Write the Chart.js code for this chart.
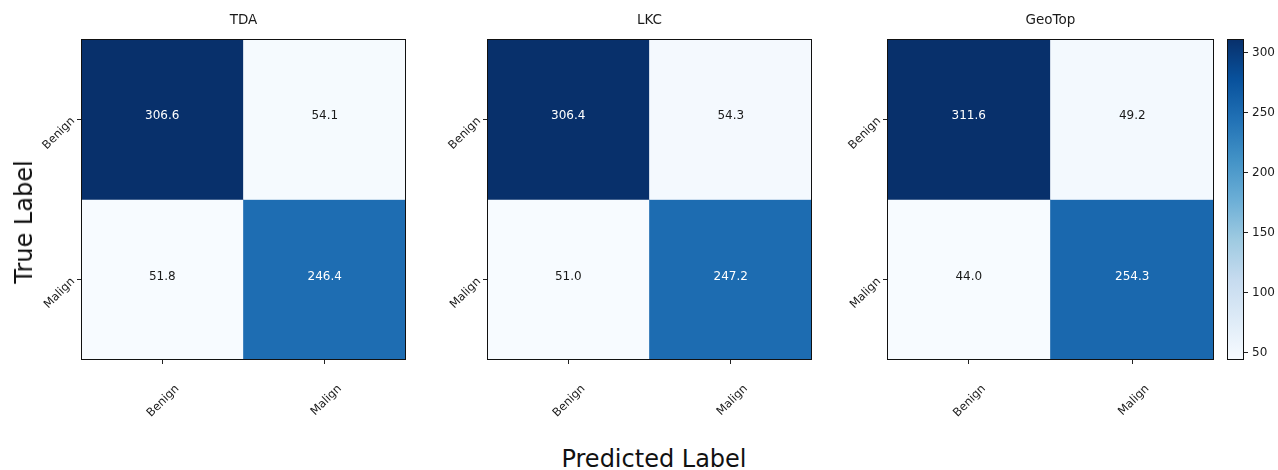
<!DOCTYPE html>
<html>
<head>
<meta charset="utf-8">
<script src="https://cdn.jsdelivr.net/npm/chart.js@4.4.1/dist/chart.umd.min.js"></script>
<style>
  html, body { margin: 0; padding: 0; background: #fff; }
  #fig { position: relative; width: 1278px; height: 470px; overflow: hidden; font-family: 'DejaVu Sans', sans-serif; }
  #fig canvas { position: absolute; top: 0; }
  .figlab { position: absolute; color: #111; font-size: 24px; line-height: 1; white-space: nowrap; }
  #ylab { left: 24px; top: 222px; transform: translate(-50%, -50%) rotate(-90deg); }
  #xlab { left: 654px; top: 459px; transform: translate(-50%, -50%); }
</style>
</head>
<body>
<div id="fig">
  <canvas id="panel0" width="420" height="430" style="left:0px"></canvas>
  <canvas id="panel1" width="420" height="430" style="left:420px"></canvas>
  <canvas id="panel2" width="380" height="430" style="left:840px"></canvas>
  <canvas id="cbar" width="63" height="430" style="left:1215px"></canvas>
  <div class="figlab" id="ylab">True Label</div>
  <div class="figlab" id="xlab">Predicted Label</div>
</div>
<script>
// Confusion matrices (rows = true class, columns = predicted class)
const titles = ['TDA', 'LKC', 'GeoTop'];
const classLabels = ['Benign', 'Malign'];
const tdaValues = [[306.6, 54.1], [51.8, 246.4]];
const lkcValues = [[306.4, 54.3], [51.0, 247.2]];
const geotopValues = [[311.6, 49.2], [44.0, 254.3]];
const colorbarTicks = [50, 100, 150, 200, 250, 300];

const FONT = "'DejaVu Sans', sans-serif";
const INK = '#1a1a1a';

// matplotlib "Blues" colour map anchors
const BLUES = [[247,251,255],[222,235,247],[198,219,239],[158,202,225],[107,174,214],
               [66,146,198],[33,113,181],[8,81,156],[8,48,107]];
function blues(t) {
  t = Math.max(0, Math.min(1, t));
  const s = t * (BLUES.length - 1);
  const i = Math.min(BLUES.length - 2, Math.floor(s));
  const f = s - i;
  const a = BLUES[i], b = BLUES[i + 1];
  const c = a.map((v, k) => Math.round(v + (b[k] - v) * f));
  return `rgb(${c[0]},${c[1]},${c[2]})`;
}

Chart.defaults.font.family = FONT;
Chart.defaults.color = INK;
Chart.defaults.animation = false;

// box outline around a plotting area
const framePlugin = {
  id: 'frame',
  afterDatasetsDraw(chart) {
    const { ctx, chartArea: a } = chart;
    ctx.save();
    ctx.strokeStyle = '#111';
    ctx.lineWidth = 1;
    ctx.strokeRect(Math.round(a.left) + 0.5, Math.round(a.top) + 0.5,
                   Math.round(a.right - a.left) - 1, Math.round(a.bottom - a.top) - 1);
    ctx.restore();
  }
};

// numbers in each cell and the panel heading
const cellTextPlugin = {
  id: 'cellText',
  afterDatasetsDraw(chart, args, opts) {
    const { ctx, chartArea: a } = chart;
    ctx.save();
    ctx.textAlign = 'center';
    ctx.textBaseline = 'middle';
    ctx.font = `12px ${FONT}`;
    chart.data.datasets.forEach((ds, di) => {
      const meta = chart.getDatasetMeta(di);
      meta.data.forEach((el, i) => {
        const v = ds.data[i].v;
        const cy = (el.y + el.base) / 2 - 3;
        ctx.fillStyle = v > opts.thresh ? '#ffffff' : INK;
        ctx.fillText(v.toFixed(1), el.x, cy);
      });
    });
    ctx.font = `13.5px ${FONT}`;
    ctx.fillStyle = INK;
    ctx.fillText(opts.title, (a.left + a.right) / 2, a.top - 19);
    ctx.restore();
  }
};

function makePanel(canvasId, title, values, yAxisWidth, padRight) {
  const flat = values.flat();
  const vmin = Math.min(...flat), vmax = Math.max(...flat);
  const color = v => blues((v - vmin) / (vmax - vmin));
  const datasets = values.map((row, r) => ({
    label: classLabels[r],
    data: row.map((v, c) => ({ x: classLabels[c], y: [classLabels.length - 1 - r, classLabels.length - r], v })),
    backgroundColor: ctx => (ctx.raw ? color(ctx.raw.v) : '#fff'),
    borderWidth: 0,
    grouped: false,
    barPercentage: 1,
    categoryPercentage: 1
  }));
  return new Chart(document.getElementById(canvasId), {
    type: 'bar',
    data: { labels: classLabels, datasets },
    options: {
      responsive: false,
      devicePixelRatio: 1,
      layout: { padding: { top: 39, right: padRight, bottom: 0, left: 0 } },
      plugins: {
        legend: { display: false },
        tooltip: { enabled: false },
        cellText: { title, thresh: vmax / 2 }
      },
      scales: {
        x: {
          type: 'category',
          offset: true,
          grid: { display: true, drawOnChartArea: false, drawTicks: true, tickLength: 4, color: '#222', offset: false },
          border: { display: false },
          ticks: { font: { size: 11.5 }, color: INK, minRotation: 45, maxRotation: 45, labelOffset: 15, padding: 18 },
          afterFit: s => { s.height = 70; }
        },
        y: {
          type: 'linear',
          min: 0,
          max: classLabels.length,
          afterBuildTicks: s => { s.ticks = classLabels.map((_, k) => ({ value: k + 0.5 })); },
          grid: { display: true, drawOnChartArea: false, drawTicks: true, tickLength: 4, color: '#222' },
          border: { display: false },
          ticks: {
            font: { size: 11.5 }, color: INK, minRotation: 45, maxRotation: 45, padding: 4,
            callback: v => classLabels[classLabels.length - 1 - Math.floor(v)]
          },
          afterFit: s => { s.width = yAxisWidth; }
        }
      }
    },
    plugins: [framePlugin, cellTextPlugin]
  });
}

makePanel('panel0', titles[0], tdaValues, 81, 14);
makePanel('panel1', titles[1], lkcValues, 67, 28);
makePanel('panel2', titles[2], geotopValues, 47, 6);

// colour bar for the last panel's scale
const cbFlat = geotopValues.flat();
const cbMin = Math.min(...cbFlat), cbMax = Math.max(...cbFlat);
new Chart(document.getElementById('cbar'), {
  type: 'bar',
  data: {
    labels: [''],
    datasets: [{
      data: [[cbMin, cbMax]],
      backgroundColor: ctx => {
        const area = ctx.chart.chartArea;
        if (!area) return '#fff';
        const g = ctx.chart.ctx.createLinearGradient(0, area.bottom, 0, area.top);
        BLUES.forEach((c, k) => g.addColorStop(k / (BLUES.length - 1), `rgb(${c[0]},${c[1]},${c[2]})`));
        return g;
      },
      borderWidth: 0,
      barPercentage: 1,
      categoryPercentage: 1
    }]
  },
  options: {
    responsive: false,
    devicePixelRatio: 1,
    layout: { padding: { top: 39, right: 0, bottom: 70, left: 12 } },
    plugins: { legend: { display: false }, tooltip: { enabled: false } },
    scales: {
      x: { display: false, offset: true },
      y: {
        position: 'right',
        min: cbMin,
        max: cbMax,
        afterBuildTicks: s => { s.ticks = colorbarTicks.map(v => ({ value: v })); },
        grid: { display: true, drawOnChartArea: false, drawTicks: true, tickLength: 4, color: '#222' },
        border: { display: false },
        ticks: { font: { size: 12 }, color: INK, padding: 4 },
        afterFit: s => { s.width = 34; }
      }
    }
  },
  plugins: [framePlugin]
});
</script>
</body>
</html>
